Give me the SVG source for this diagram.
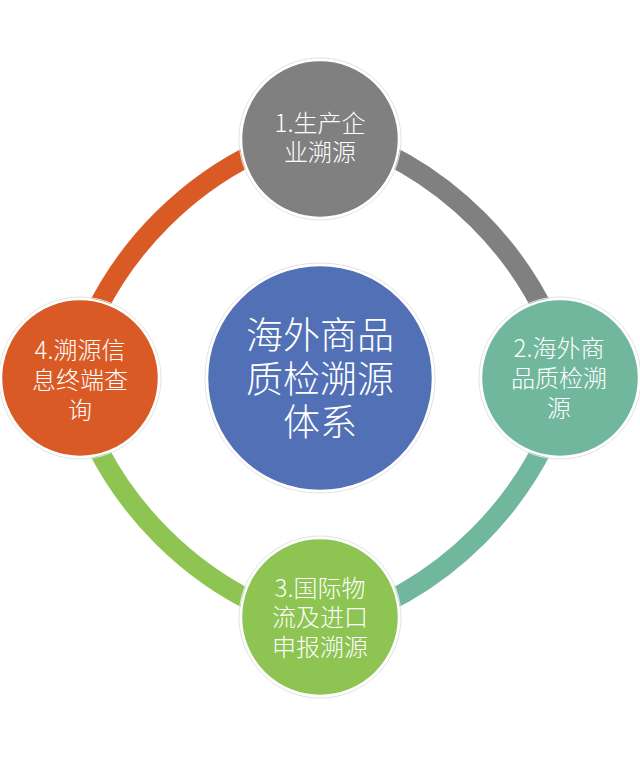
<svg xmlns="http://www.w3.org/2000/svg" width="640" height="757" viewBox="0 0 640 757">
  <style>
    .arc { fill: none; stroke-width: 20; }
    .halo { fill: none; stroke: #e2e2e2; stroke-width: 1; }
    .node { stroke: #ffffff; stroke-width: 2.5; }
    .lbl { font-family: "Noto Sans CJK SC", "Noto Sans", sans-serif; font-weight: 300; font-size: 24px; fill: #ffffff; text-anchor: middle; }
    .big { font-size: 37px; }
  </style>
  <rect width="640" height="757" fill="#ffffff"/>
  <g id="connectors">
    <path class="arc" stroke="#808080" d="M 320 129 A 350 350 0 0 1 569 378"/>
    <path class="arc" stroke="#71b79d" d="M 569 378 A 350 350 0 0 1 320 627"/>
    <path class="arc" stroke="#8dc452" d="M 320 627 A 350 350 0 0 1 71 378"/>
    <path class="arc" stroke="#da5a26" d="M 71 378 A 350 350 0 0 1 320 129"/>
  </g>
  <g id="center">
    <circle class="halo" cx="320" cy="378" r="115"/>
    <circle class="node" cx="320" cy="378" r="113" fill="#5270b5"/>
    <text class="lbl big" x="320" y="349">海外商品</text>
    <text class="lbl big" x="320" y="393">质检溯源</text>
    <text class="lbl big" x="320" y="436">体系</text>
  </g>
  <g id="node1">
    <circle class="halo" cx="320" cy="139" r="81"/>
    <circle class="node" cx="320" cy="139" r="79" fill="#808080"/>
    <text class="lbl" x="320" y="132">1.生产企</text>
    <text class="lbl" x="320" y="161">业溯源</text>
  </g>
  <g id="node2">
    <circle class="halo" cx="560" cy="378" r="81"/>
    <circle class="node" cx="560" cy="378" r="79" fill="#71b79d"/>
    <text class="lbl" x="559" y="357">2.海外商</text>
    <text class="lbl" x="559" y="387">品质检溯</text>
    <text class="lbl" x="559" y="417">源</text>
  </g>
  <g id="node3">
    <circle class="halo" cx="320" cy="617" r="81"/>
    <circle class="node" cx="320" cy="617" r="79" fill="#8dc452"/>
    <text class="lbl" x="320" y="597">3.国际物</text>
    <text class="lbl" x="320" y="626">流及进口</text>
    <text class="lbl" x="320" y="656">申报溯源</text>
  </g>
  <g id="node4">
    <circle class="halo" cx="80" cy="378" r="81"/>
    <circle class="node" cx="80" cy="378" r="79" fill="#da5a26"/>
    <text class="lbl" x="80" y="359">4.溯源信</text>
    <text class="lbl" x="80" y="389">息终端查</text>
    <text class="lbl" x="80" y="419">询</text>
  </g>
</svg>
